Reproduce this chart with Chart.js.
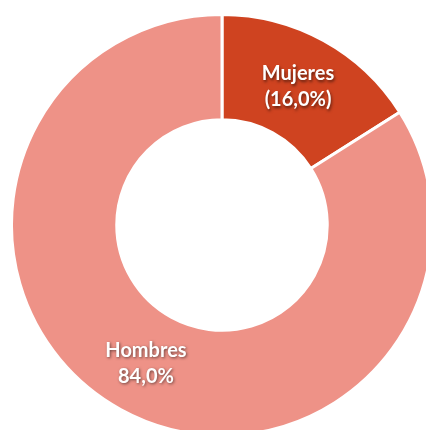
<!DOCTYPE html>
<html>
<head>
<meta charset="utf-8">
<script src="https://cdn.jsdelivr.net/npm/chart.js@4"></script>
<style>
  html, body { margin: 0; padding: 0; background: #ffffff; overflow: hidden; width: 426px; height: 430px; }
  #wrap { position: absolute; left: 10px; top: 13px; width: 424px; height: 424px; }
</style>
</head>
<body>
<div id="wrap"><canvas id="c"></canvas></div>
<script>
const categories = ["Mujeres", "Hombres"];
const values = [16.0, 84.0];
const valueLabels = ["(16,0%)", "84,0%"];
const colors = ["#CF4320", "#EE9287"];

const labelPlugin = {
  id: 'sliceLabels',
  afterDatasetsDraw(chart) {
    const ctx = chart.ctx;
    const meta = chart.getDatasetMeta(0);
    ctx.save();
    ctx.font = 'bold 20px Lato, "Open Sans", sans-serif';
    ctx.textAlign = 'center';
    ctx.textBaseline = 'middle';
    ctx.fillStyle = '#ffffff';
    ctx.shadowColor = 'rgba(0,0,0,0.55)';
    ctx.shadowBlur = 3;
    ctx.shadowOffsetX = 1;
    ctx.shadowOffsetY = 1.5;
    meta.data.forEach((arc, i) => {
      const p = arc.tooltipPosition();
      ctx.fillText(categories[i], p.x, p.y - 13);
      ctx.fillText(valueLabels[i], p.x, p.y + 13);
    });
    ctx.restore();
  }
};

new Chart(document.getElementById('c'), {
  type: 'doughnut',
  data: {
    labels: categories,
    datasets: [{
      data: values,
      backgroundColor: colors,
      borderColor: '#ffffff',
      borderWidth: 3
    }]
  },
  options: {
    responsive: true,
    maintainAspectRatio: false,
    animation: false,
    cutout: '50%',
    layout: { padding: 0 },
    plugins: {
      legend: { display: false },
      tooltip: { enabled: false }
    }
  },
  plugins: [labelPlugin]
});
</script>
</body>
</html>
